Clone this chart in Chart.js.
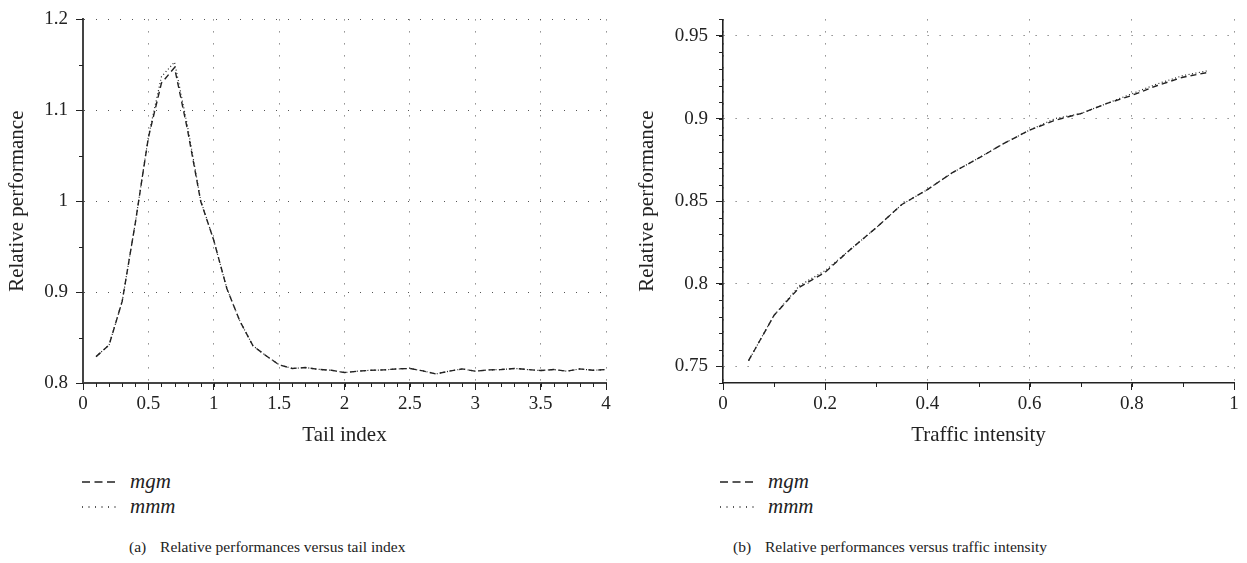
<!DOCTYPE html>
<html>
<head>
<meta charset="utf-8">
<script src="https://cdn.jsdelivr.net/npm/chart.js@4.4.1/dist/chart.umd.min.js"></script>
<style>
  body { margin: 0; background: #fff; font-family: "Liberation Serif", serif; color: #222; }
  #wrap { position: relative; width: 1247px; height: 563px; overflow: hidden; }
  canvas { position: absolute; top: 0; }
  .legend { position: absolute; font-size: 21px; font-style: italic; }
  .legend div { height: 25px; display: flex; align-items: center; }
  .legend svg { margin-right: 14px; }
  .caption { position: absolute; font-size: 15.5px; line-height: 20px; white-space: nowrap; }
  .caption span { margin-right: 10px; }
</style>
</head>
<body>
<div id="wrap">
  <canvas id="chart-a" width="620" height="450" style="left:0"></canvas>
  <canvas id="chart-b" width="617" height="450" style="left:630px"></canvas>

  <div class="legend" style="left:82px; top:469px">
    <div><svg width="34" height="4"><line x1="0" y1="2" x2="34" y2="2" stroke="#222" stroke-width="1.3" stroke-dasharray="8,4.5"/></svg>mgm</div>
    <div><svg width="34" height="4"><line x1="0" y1="2" x2="34" y2="2" stroke="#222" stroke-width="1.3" stroke-dasharray="1,5.5"/></svg>mmm</div>
  </div>
  <div class="legend" style="left:720px; top:469px">
    <div><svg width="34" height="4"><line x1="0" y1="2" x2="34" y2="2" stroke="#222" stroke-width="1.3" stroke-dasharray="8,4.5"/></svg>mgm</div>
    <div><svg width="34" height="4"><line x1="0" y1="2" x2="34" y2="2" stroke="#222" stroke-width="1.3" stroke-dasharray="1,5.5"/></svg>mmm</div>
  </div>

  <div class="caption" style="left:129px; top:537px"><span>(a)</span> Relative performances versus tail index</div>
  <div class="caption" style="left:733px; top:537px"><span>(b)</span> Relative performances versus traffic intensity</div>
</div>

<script>
// (a) tail index
const tailX = [0.1, 0.2, 0.3, 0.4, 0.5, 0.6, 0.7, 0.8, 0.9, 1.0,
               1.1, 1.2, 1.3, 1.4, 1.5, 1.6, 1.7, 1.8, 1.9, 2.0,
               2.1, 2.2, 2.3, 2.4, 2.5, 2.6, 2.7, 2.8, 2.9, 3.0,
               3.1, 3.2, 3.3, 3.4, 3.5, 3.6, 3.7, 3.8, 3.9, 4.0];
const tailMgm = [0.829, 0.842, 0.890, 0.976, 1.070, 1.130, 1.147, 1.078, 1.000, 0.957,
                 0.904, 0.868, 0.841, 0.830, 0.820, 0.816, 0.817, 0.815, 0.814, 0.8115,
                 0.813, 0.814, 0.8144, 0.8155, 0.816, 0.8133, 0.810, 0.813, 0.8155, 0.813,
                 0.8144, 0.8148, 0.816, 0.8148, 0.8137, 0.8148, 0.813, 0.8155, 0.814, 0.8148];
const tailMmm = [0.829, 0.842, 0.890, 0.976, 1.071, 1.137, 1.153, 1.082, 1.001, 0.957,
                 0.904, 0.868, 0.841, 0.830, 0.820, 0.816, 0.817, 0.815, 0.814, 0.8115,
                 0.813, 0.814, 0.8144, 0.8155, 0.816, 0.8133, 0.810, 0.813, 0.8155, 0.813,
                 0.8144, 0.8148, 0.816, 0.8148, 0.8137, 0.8148, 0.813, 0.8155, 0.814, 0.8148];
const tailTicksX = [0, 0.5, 1, 1.5, 2, 2.5, 3, 3.5, 4];
const tailTicksY = [0.8, 0.9, 1, 1.1, 1.2];

// (b) traffic intensity
const trafficX = [0.05, 0.1, 0.15, 0.2, 0.25, 0.3, 0.35, 0.4, 0.45, 0.5,
                  0.55, 0.6, 0.65, 0.7, 0.75, 0.8, 0.85, 0.9, 0.95];
const trafficMgm = [0.7535, 0.781, 0.798, 0.807, 0.821, 0.834, 0.848, 0.857, 0.8675, 0.876,
                    0.885, 0.893, 0.899, 0.903, 0.909, 0.914, 0.920, 0.925, 0.928];
const trafficMmm = [0.7535, 0.781, 0.799, 0.808, 0.821, 0.834, 0.848, 0.857, 0.8675, 0.876,
                    0.885, 0.893, 0.900, 0.903, 0.909, 0.915, 0.921, 0.926, 0.929];
const trafficTicksX = [0, 0.2, 0.4, 0.6, 0.8, 1];
const trafficTicksY = [0.75, 0.8, 0.85, 0.9, 0.95];

const FONT = "'Liberation Serif', serif";
const INK = '#222';

// short ticks between the labelled ones
const minorTicks = {
    id: 'minorTicks',
    afterDraw(chart, args, opts) {
        const ctx = chart.ctx;
        const {x, y} = chart.scales;
        ctx.save();
        ctx.strokeStyle = INK;
        ctx.lineWidth = 1;
        ctx.beginPath();
        let n = Math.round((x.max - x.min) / opts.xStep);
        for (let i = 0; i <= n; i++) {
            const px = Math.round(x.getPixelForValue(x.min + i * opts.xStep)) + 0.5;
            ctx.moveTo(px, x.top);
            ctx.lineTo(px, x.top + 4);
        }
        n = Math.round((y.max - y.min) / opts.yStep);
        for (let i = 0; i <= n; i++) {
            const py = Math.round(y.getPixelForValue(y.min + i * opts.yStep)) + 0.5;
            ctx.moveTo(y.right, py);
            ctx.lineTo(y.right - 4, py);
        }
        ctx.stroke();
        ctx.restore();
    }
};

const toPoints = (xs, ys) => xs.map((v, i) => ({x: v, y: ys[i]}));
const fmt = (v) => String(+Number(v).toFixed(3));

const makeChart = (id, cfg) => new Chart(document.getElementById(id), {
    type: 'line',
    data: {
        datasets: [{
            label: 'mmm',
            data: toPoints(cfg.xs, cfg.mmm),
            borderColor: INK,
            borderWidth: 1.2,
            borderDash: [1, 2.5],
            pointRadius: 0,
            tension: 0
        }, {
            label: 'mgm',
            data: toPoints(cfg.xs, cfg.mgm),
            borderColor: INK,
            borderWidth: 1.4,
            borderDash: [6, 4],
            pointRadius: 0,
            tension: 0
        }]
    },
    plugins: [minorTicks],
    options: {
        responsive: false,
        animation: false,
        layout: {padding: {top: cfg.top, right: cfg.right, left: 0, bottom: 0}},
        plugins: {
            legend: {display: false},
            tooltip: {enabled: false},
            minorTicks: {xStep: cfg.xMinor, yStep: cfg.yMinor}
        },
        scales: {
            x: {
                type: 'linear',
                min: cfg.xMin, max: cfg.xMax,
                afterBuildTicks: (s) => { s.ticks = cfg.xTicks.map(v => ({value: v})); },
                afterFit: (s) => { s.height = 450 - cfg.bottom; },
                ticks: {callback: fmt, color: INK, font: {family: FONT, size: 19}, padding: 3, maxRotation: 0},
                grid: {color: '#555', lineWidth: 1, tickLength: 7, tickColor: INK, tickWidth: 1},
                border: {color: cfg.axisColor, width: cfg.axisWidth, dash: [1, 11]},
                title: {display: true, text: cfg.xTitle, color: INK, font: {family: FONT, size: 21}, padding: {top: 0, bottom: 2}}
            },
            y: {
                type: 'linear',
                min: cfg.yMin, max: cfg.yMax,
                afterBuildTicks: (s) => { s.ticks = cfg.yTicks.map(v => ({value: v})); },
                afterFit: (s) => { s.width = cfg.left; },
                ticks: {callback: fmt, color: INK, font: {family: FONT, size: 19}, padding: 8},
                grid: {color: '#555', lineWidth: 1, tickLength: 7, tickColor: INK, tickWidth: 1},
                border: {color: cfg.axisColor, width: cfg.axisWidth, dash: [1, 11]},
                title: {display: true, text: 'Relative performance', color: INK, font: {family: FONT, size: 21}, padding: {top: 5, bottom: 0}}
            }
        }
    }
});

makeChart('chart-a', {
    xs: tailX, mgm: tailMgm, mmm: tailMmm,
    xTicks: tailTicksX, yTicks: tailTicksY,
    xMin: 0, xMax: 4, yMin: 0.8, yMax: 1.2,
    xMinor: 0.1, yMinor: 0.05,
    xTitle: 'Tail index',
    top: 14, right: 14, left: 83, bottom: 383,
    axisColor: '#444', axisWidth: 2
});

makeChart('chart-b', {
    xs: trafficX, mgm: trafficMgm, mmm: trafficMmm,
    xTicks: trafficTicksX, yTicks: trafficTicksY,
    xMin: 0, xMax: 1, yMin: 0.74, yMax: 0.96,
    xMinor: 0.1, yMinor: 0.01,
    xTitle: 'Traffic intensity',
    top: 15, right: 13, left: 93, bottom: 383,
    axisColor: '#222', axisWidth: 1.6
});
</script>
</body>
</html>
